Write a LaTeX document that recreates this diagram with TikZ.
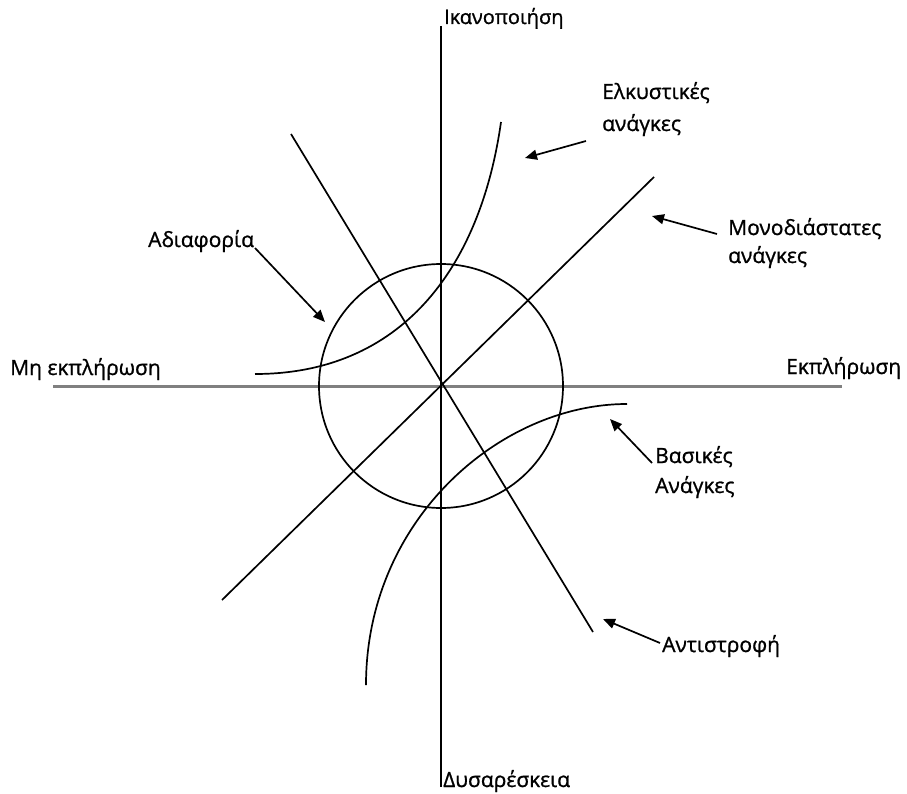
\documentclass[tikz,border=0pt]{standalone}
\usepackage{fontspec}
\setmainfont{Open Sans}[FakeBold=1.0]
\usetikzlibrary{arrows.meta}
\definecolor{axisgray}{RGB}{128,128,128}
\begin{document}
\begin{tikzpicture}[x=1pt,y=-1pt,
  axis/.style={line width=1.8pt},
  haxis/.style={line width=3pt, draw=axisgray},
  curve/.style={line width=1.7pt},
  pointer/.style={line width=1.7pt, -{Triangle[length=12pt,width=10pt]}},
  lbl/.style={inner sep=0pt, anchor=base west, font=\fontsize{21}{25}\selectfont},
  small lbl/.style={lbl, font=\fontsize{20}{24}\selectfont}]
\useasboundingbox (0,0) rectangle (907,794);

% axes
\coordinate (top) at (441,26);
\coordinate (bottom) at (441,787);
\coordinate (left) at (53,386);
\coordinate (right) at (842,386);
\coordinate (o) at (441,386);
\draw[haxis] (left) -- (right);
\draw[axis] (top) -- (bottom);

% circle of indifference
\draw[curve] (o) circle[radius=122];

% one-dimensional and reverse lines
\coordinate (d1) at (222,600);
\coordinate (d2) at (654,177);
\coordinate (r1) at (291,134);
\coordinate (r2) at (593,632);
\draw[curve] (d1) -- (d2);
\draw[curve] (r1) -- (r2);

% attractive and must-be curves
\coordinate (a1) at (255,374);
\coordinate (a2) at (501,122);
\coordinate (b1) at (627,404);
\coordinate (b2) at (366,685);
\draw[curve] (a1) .. controls (400,374) and (480,270) .. (a2);
\draw[curve] (b1) .. controls (500,404) and (366,520) .. (b2);

% axis labels
\node[small lbl] (sat) at (444,24)  {Ικανοποιήση};
\node[lbl] (dis)   at (443,787) {Δυσαρέσκεια};
\node[lbl] (nful)  at (10,375)  {Μη εκπλήρωση};
\node[lbl] (ful)   at (786,374) {Εκπλήρωση};

% category labels
\node[lbl] (att1)  at (602,99)  {Ελκυστικές};
\node[lbl] (att2)  at (602,131) {ανάγκες};
\node[lbl] (one1)  at (728,235) {Μονοδιάστατες};
\node[lbl] (one2)  at (728,263) {ανάγκες};
\node[lbl] (ind)   at (148,247) {Αδιαφορία};
\node[lbl] (must1) at (655,463) {Βασικές};
\node[lbl] (must2) at (655,493) {Ανάγκες};
\node[lbl] (rev)   at (662,652) {Αντιστροφή};

% pointers
\coordinate (attT) at (586,141);  \coordinate (attH) at (525,158);
\coordinate (oneT) at (717,234);  \coordinate (oneH) at (652,216);
\coordinate (indT) at (255,248);  \coordinate (indH) at (325,322);
\coordinate (mustT) at (652,463); \coordinate (mustH) at (610,419);
\coordinate (revT) at (660,643);  \coordinate (revH) at (603,619);
\draw[pointer] (attT) -- (attH);
\draw[pointer] (oneT) -- (oneH);
\draw[pointer] (indT) -- (indH);
\draw[pointer] (mustT) -- (mustH);
\draw[pointer] (revT) -- (revH);
\end{tikzpicture}
\end{document}
